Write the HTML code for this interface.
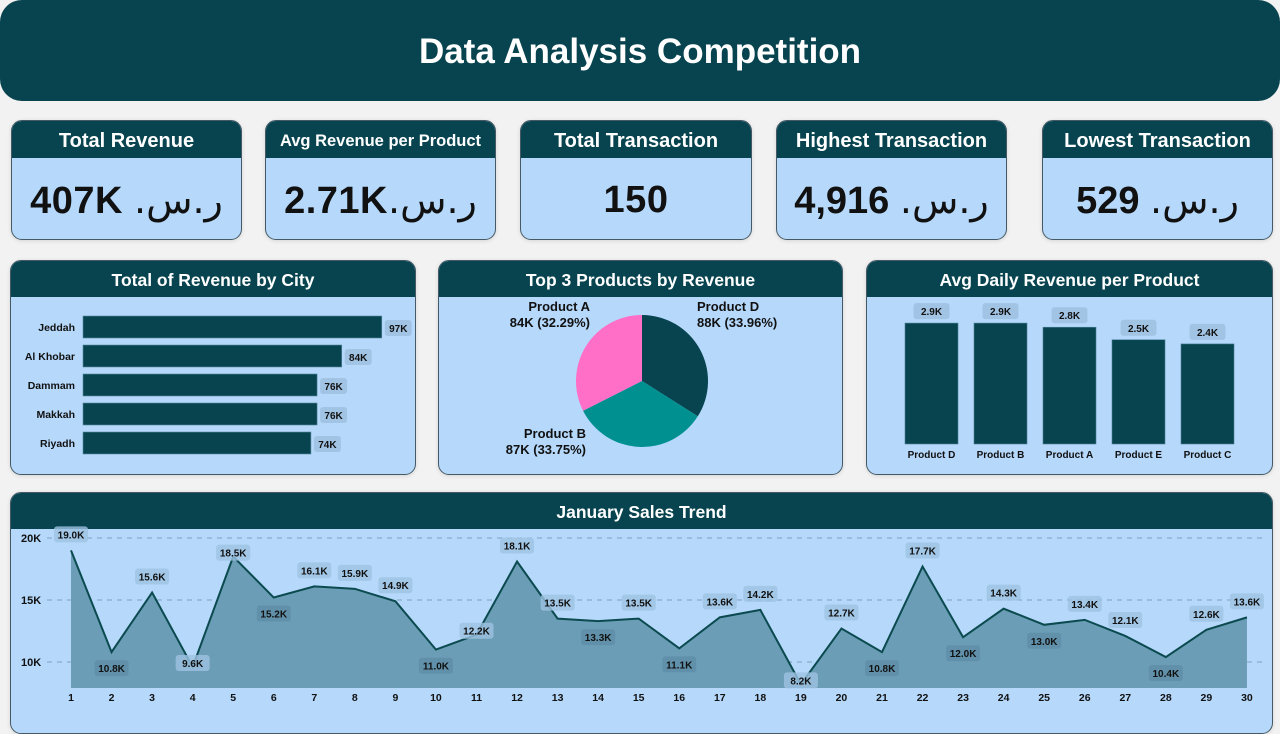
<!DOCTYPE html>
<html><head><meta charset="utf-8">
<style>
body{margin:0;width:1280px;height:717px;overflow:hidden;background:#f2f2f2;font-family:"Liberation Sans","DejaVu Sans",sans-serif;position:relative}
.hdr{position:absolute;left:0;top:0;width:1280px;height:101px;background:#08444f;border-radius:22px;color:#fff;font-weight:bold;font-size:35px;text-align:center;line-height:103px}
.card{position:absolute;background:#b5d8fb;border:1px solid #445a66;border-radius:11px;overflow:hidden;box-shadow:0 1px 4px rgba(0,0,0,.12)}
.card .t{background:#08444f;color:#fff;font-weight:bold;text-align:center}
.kpi .t{height:37px;line-height:41px;font-size:20px}
.kpi .v{text-align:center;font-weight:bold;font-size:38px;line-height:84px;color:#111;letter-spacing:0.5px}
.panel .t{height:36px;line-height:38px;font-size:17.5px}
svg{position:absolute;left:0;top:0}
</style></head><body>
<div class="hdr">Data Analysis Competition</div>

<div class="card kpi" style="left:11px;top:120px;width:229px;height:118px"><div class="t">Total Revenue</div><div class="v">407K <span dir="rtl" style="font-family:'DejaVu Sans',sans-serif;font-weight:normal">ر.س.</span></div></div>
<div class="card kpi" style="left:265px;top:120px;width:229px;height:118px"><div class="t" style="font-size:16.5px">Avg Revenue per Product</div><div class="v">2.71K<span dir="rtl" style="font-family:'DejaVu Sans',sans-serif;font-weight:normal">ر.س.</span></div></div>
<div class="card kpi" style="left:520px;top:120px;width:230px;height:118px"><div class="t">Total Transaction</div><div class="v">150</div></div>
<div class="card kpi" style="left:776px;top:120px;width:229px;height:118px"><div class="t">Highest Transaction</div><div class="v">4,916 <span dir="rtl" style="font-family:'DejaVu Sans',sans-serif;font-weight:normal">ر.س.</span></div></div>
<div class="card kpi" style="left:1042px;top:120px;width:229px;height:118px"><div class="t">Lowest Transaction</div><div class="v">529 <span dir="rtl" style="font-family:'DejaVu Sans',sans-serif;font-weight:normal">ر.س.</span></div></div>

<div class="card panel" style="left:10px;top:260px;width:404px;height:213px"><div class="t">Total of Revenue by City</div><svg id="city" width="404" height="213"></svg></div>
<div class="card panel" style="left:438px;top:260px;width:403px;height:213px"><div class="t">Top 3 Products by Revenue</div><svg id="pie" width="403" height="213"></svg></div>
<div class="card panel" style="left:866px;top:260px;width:405px;height:213px"><div class="t">Avg Daily Revenue per Product</div><svg id="avg" width="405" height="213"></svg></div>
<div class="card panel" style="left:10px;top:492px;width:1261px;height:240px"><div class="t">January Sales Trend</div><svg id="trend" width="1261" height="240"></svg></div>

<script>
const NS="http://www.w3.org/2000/svg";
function mk(p,tag,a,txt){const e=document.createElementNS(NS,tag);for(const k in a)e.setAttribute(k,a[k]);if(txt!==undefined)e.textContent=txt;p.appendChild(e);return e;}

// City chart data
const cities=["Jeddah","Al Khobar","Dammam","Makkah","Riyadh"];
const cityRevenue=[97,84,76,76,74];
// Avg daily data
const products=["Product D","Product B","Product A","Product E","Product C"];
const avgDaily=[2.9,2.9,2.8,2.5,2.4];
// Pie data
const pieNames=["Product D","Product B","Product A"];
const pieValues=[88,87,84];
const pieLabels=["88K (33.96%)","87K (33.75%)","84K (32.29%)"];
// Trend data
const days=[1,2,3,4,5,6,7,8,9,10,11,12,13,14,15,16,17,18,19,20,21,22,23,24,25,26,27,28,29,30];
const sales=[19.0,10.8,15.6,9.6,18.5,15.2,16.1,15.9,14.9,11.0,12.2,18.1,13.5,13.3,13.5,11.1,13.6,14.2,8.2,12.7,10.8,17.7,12.0,14.3,13.0,13.4,12.1,10.4,12.6,13.6];
const labelSide=["A","B","A","O","O","B","A","A","A","B","O","A","A","B","A","B","A","A","O","A","B","A","B","A","B","A","A","B","A","A"];
const yTicks=[10,15,20];

(function(){
 const s=document.getElementById('city');
 const x0=72, xs=v=>v*3.08;
 cities.forEach((c,i)=>{
  const y=55+i*29;
  const t=mk(s,'text',{x:x0-8,y:y+15,'text-anchor':'end','font-size':10.5,'font-weight':'bold',fill:'#111'},c);
  
  
  const w=xs(cityRevenue[i]);
  const r=mk(s,'rect',{x:x0,y:y,width:w,height:22,fill:'#08444f',stroke:'#5a8aa0','stroke-width':0.6});
  
  
  const lb=mk(s,'rect',{x:x0+w+3,y:y+4,width:27,height:16,rx:3,fill:'#a2c4e4'});
  
  
  const lt=mk(s,'text',{x:x0+w+16.5,y:y+16,'text-anchor':'middle','font-size':10,'font-weight':'bold',fill:'#111'},cityRevenue[i]+'K');
  
  
 });
})();

(function(){
 const s=document.getElementById('pie');
 const cx=203,cy=120,R=66, cols=["#08444f","#009090","#ff6ec7"];
 const tot=pieValues.reduce((a,b)=>a+b,0);
 let a=-Math.PI/2;
 pieValues.forEach((v,i)=>{
  const a2=a+v/tot*2*Math.PI;
  const d=`M${cx},${cy} L${cx+R*Math.cos(a)},${cy+R*Math.sin(a)} A${R},${R} 0 ${a2-a>Math.PI?1:0} 1 ${cx+R*Math.cos(a2)},${cy+R*Math.sin(a2)} Z`;
  const p=mk(s,'path',{d:d,fill:cols[i]});
  
  
  a=a2;
 });
 const lbl=[{x:258,y:50,anchor:'start'},{x:147,y:177,anchor:'end'},{x:151,y:50,anchor:'end'}];
 pieNames.forEach((n,i)=>{
  const L=lbl[i];
  const t1=mk(s,'text',{x:L.x,y:L.y,'text-anchor':L.anchor,'font-size':13,'font-weight':'bold',fill:'#111'},n);
  
  
  const t2=mk(s,'text',{x:L.x,y:L.y+16,'text-anchor':L.anchor,'font-size':13,'font-weight':'bold',fill:'#111'},pieLabels[i]);
  
  
 });
})();

(function(){
 const s=document.getElementById('avg');
 const base=183, k=41.7;
 products.forEach((p,i)=>{
  const x=38+i*69, h=avgDaily[i]*k;
  const r=mk(s,'rect',{x:x,y:base-h,width:53,height:h,fill:'#08444f',stroke:'#4d8096','stroke-width':0.6});
  
  
  const b=mk(s,'rect',{x:x+8.5,y:base-h-20,width:36,height:16,rx:3,fill:'#a2c4e4'});
  
  
  const t=mk(s,'text',{x:x+26.5,y:base-h-8,'text-anchor':'middle','font-size':10,'font-weight':'bold',fill:'#111'},avgDaily[i].toFixed(1)+'K');
  
  
  const l=mk(s,'text',{x:x+26.5,y:base+14,'text-anchor':'middle','font-size':10,'font-weight':'bold',fill:'#111'},p);
  
  
 });
})();

(function(){
 const s=document.getElementById('trend');
 const X=d=>60+(d-1)*40.55, Y=v=>169-(v-10)*12.4, base=195;
 yTicks.forEach(t=>{
  const g=mk(s,'line',{x1:36,x2:1252,y1:Y(t),y2:Y(t),stroke:'#7fa2bf','stroke-dasharray':'5,5','stroke-width':1});
  
  
  const tl=mk(s,'text',{x:10,y:Y(t)+4,'font-size':11,'font-weight':'bold',fill:'#111'},t+'K');
  
  
 });
 let pts=days.map((d,i)=>X(d)+','+Y(sales[i])).join(' ');
 const area=mk(s,'polygon',{points:`${X(days[0])},${base} ${pts} ${X(days[days.length-1])},${base}`,fill:'#6b9db6'});
 
 
 const line=mk(s,'polyline',{points:pts,fill:'none',stroke:'#0b4a4f','stroke-width':2});
 
 
 days.forEach((d,i)=>{
  const tk=mk(s,'text',{x:X(d),y:208,'text-anchor':'middle','font-size':10.5,'font-weight':'bold',fill:'#111'},d);
  
  
  const v=sales[i], side=labelSide[i];
  const cy=side==='A'?Y(v)-16:side==='B'?Y(v)+16:Y(v)-4;
  const bx=mk(s,'rect',{x:X(d)-17,y:cy-8,width:34,height:16,rx:3,fill:side==='B'?'#5f8fa8':'#9ec3e2','fill-opacity':0.8});
  
  
  const vt=mk(s,'text',{x:X(d),y:cy+4,'text-anchor':'middle','font-size':10,'font-weight':'bold',fill:'#111'},v.toFixed(1)+'K');
  
  
 });
})();
</script>
</body></html>
